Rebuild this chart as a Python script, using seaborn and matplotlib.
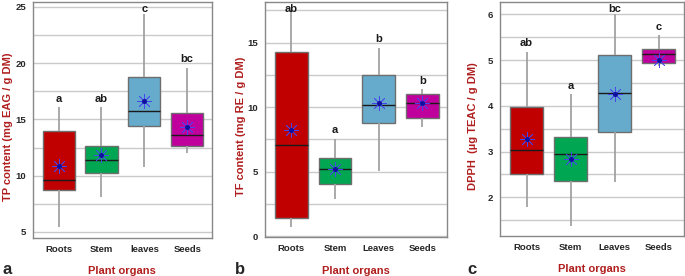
import numpy as np
import pandas as pd
import matplotlib
matplotlib.use("Agg")
import matplotlib.pyplot as plt
from matplotlib.ticker import MultipleLocator
import seaborn as sns

sns.set_style("white")
plt.rcParams["font.family"] = ["Liberation Sans", "DejaVu Sans"]

# five-number summaries + means
organs_a = ["Roots", "Stem", "leaves", "Seeds"]
organs = ["Roots", "Stem", "Leaves", "Seeds"]
colors = ["#c00000", "#00a651", "#66aacc", "#c0009c"]

tp_min = [5.4, 8.1, 10.8, 12.0]
tp_q1 = [8.7, 10.2, 14.4, 12.6]
tp_median = [9.65, 11.4, 15.75, 13.65]
tp_q3 = [14.0, 12.6, 18.8, 15.6]
tp_max = [16.1, 16.1, 24.35, 19.6]
tp_mean = [10.9, 11.8, 16.6, 14.35]
tp_letters = ["a", "ab", "c", "bc"]

tf_min = [0.7, 2.9, 5.05, 8.5]
tf_q1 = [1.4, 4.05, 8.75, 9.2]
tf_median = [7.1, 5.2, 10.2, 10.35]
tf_q3 = [14.25, 6.1, 12.5, 11.0]
tf_max = [17.4, 7.55, 14.6, 11.4]
tf_mean = [8.2, 5.2, 10.35, 10.35]
tf_letters = ["ab", "a", "b", "b"]

dpph_min = [1.78, 1.37, 2.34, 4.87]
dpph_q1 = [2.5, 2.36, 3.42, 4.93]
dpph_median = [3.03, 2.94, 4.29, 5.14]
dpph_q3 = [3.98, 3.31, 5.12, 5.25]
dpph_max = [5.18, 4.25, 6.0, 5.54]
dpph_mean = [3.27, 2.83, 4.25, 5.0]
dpph_letters = ["ab", "a", "bc", "c"]

RED = "#b01e1e"
BLUE = "#4646f0"


def panel(ax, labels, mins, q1s, meds, q3s, maxs, means, letters,
          ylabel, ylim, major, minor, ylab_x):
    rows = []
    for lab, a, b, c, d, e in zip(labels, mins, q1s, meds, q3s, maxs):
        for v in (a, b, c, d, e):
            rows.append((lab, v))
    df = pd.DataFrame(rows, columns=["organ", "value"])

    sns.boxplot(data=df, x="organ", y="value", hue="organ", order=labels,
                palette=colors, legend=False, saturation=1, width=0.75,
                whis=np.inf, showfliers=False, showcaps=False,
                linecolor="#6e6e6e", linewidth=1.0,
                whiskerprops=dict(color="#a2a2a2", linewidth=1.3),
                medianprops=dict(color="#1a1a1a", linewidth=1.0),
                ax=ax, zorder=2)
    sns.pointplot(x=labels, y=means, order=labels, linestyle="none",
                  marker=(8, 2, 0), markersize=10.5, markeredgewidth=0.55,
                  color=BLUE, errorbar=None, ax=ax, zorder=5)
    sns.pointplot(x=labels, y=means, order=labels, linestyle="none",
                  marker="o", markersize=1.6, color="#1010a0",
                  errorbar=None, ax=ax, zorder=6)
    ax.set_ylim(*ylim)
    span = ylim[1] - ylim[0]
    for i, (lab, top) in enumerate(zip(letters, maxs)):
        if top > ylim[1] - 0.06 * span:
            ax.annotate(lab, (i, ylim[1]), xytext=(0, -1.5),
                        textcoords="offset points", ha="center", va="top",
                        fontsize=8, fontweight="bold", color="#1a1a1a")
        else:
            ax.annotate(lab, (i, top), xytext=(0, 2.5),
                        textcoords="offset points", ha="center", va="bottom",
                        fontsize=8, fontweight="bold", color="#1a1a1a")

    ax.set_xlim(-0.6, 3.57)
    ax.yaxis.set_major_locator(MultipleLocator(major))
    ax.yaxis.set_minor_locator(MultipleLocator(minor))
    ax.set_axisbelow(True)
    ax.yaxis.grid(True, which="both", color="#cacaca", linewidth=1.0)
    ax.xaxis.grid(False)
    for s in ax.spines.values():
        s.set_color("#888888")
        s.set_linewidth(1.0)
    ax.tick_params(axis="both", which="major", length=3, width=0.8,
                   color="#888888", labelsize=6.8, pad=2)
    ax.tick_params(axis="y", which="minor", length=0)
    for t in ax.get_xticklabels() + ax.get_yticklabels():
        t.set_fontweight("bold")
    ax.set_xlabel("Plant organs", fontsize=8, fontweight="bold", color=RED,
                  labelpad=9)
    ax.set_ylabel(ylabel, fontsize=8, fontweight="bold", color=RED)
    ax.yaxis.set_label_coords(ylab_x, 0.47)


fig = plt.figure(figsize=(6.85, 2.76), dpi=100)
ax1 = fig.add_axes([0.048, 0.138, 0.261, 0.855])
ax2 = fig.add_axes([0.387, 0.141, 0.266, 0.852])
ax3 = fig.add_axes([0.730, 0.145, 0.2686, 0.848])

panel(ax1, organs_a, tp_min, tp_q1, tp_median, tp_q3, tp_max, tp_mean,
      tp_letters, "TP content (mg EAG / g DM)", (4.47, 25.44), 5, 2.5, -0.11)
panel(ax2, organs, tf_min, tf_q1, tf_median, tf_q3, tf_max, tf_mean,
      tf_letters, "TF content (mg RE / g DM)", (-0.05, 18.14), 5, 2.5, -0.106)
panel(ax3, organs, dpph_min, dpph_q1, dpph_median, dpph_q3, dpph_max,
      dpph_mean, dpph_letters, "DPPH  (\u00b5g TEAC / g DM)", (1.156, 6.27),
      1, 0.5, -0.121)

for x, lab in [(0.004, "a"), (0.343, "b"), (0.683, "c")]:
    fig.text(x, 0.025, lab, fontsize=12, fontweight="bold", va="center")

fig.savefig("out.png", dpi=100)
